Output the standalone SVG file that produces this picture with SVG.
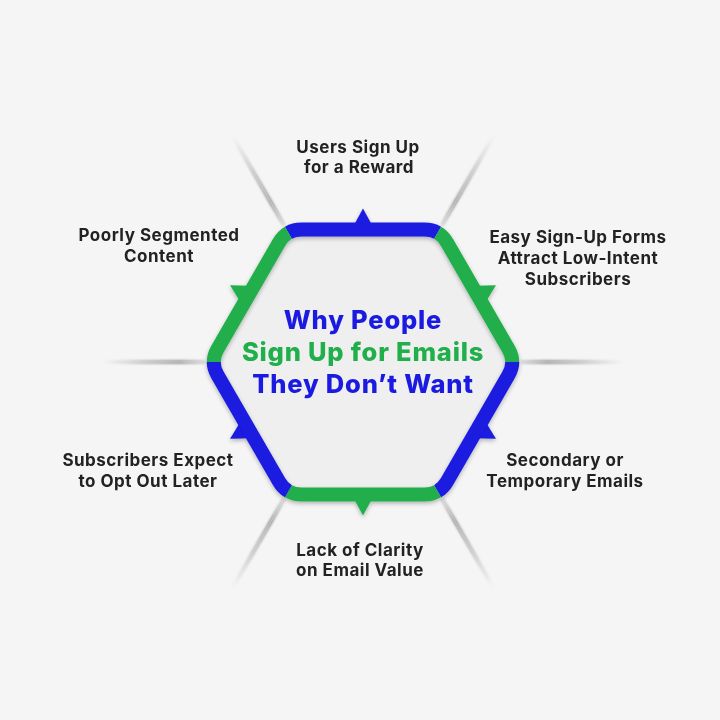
<svg xmlns="http://www.w3.org/2000/svg" width="720" height="720" viewBox="0 0 720 720">
<style>
.lbl{font-family:Inter,"Noto Sans","Liberation Sans",sans-serif;font-weight:700;font-size:17px;letter-spacing:0.5px;fill:#222;text-anchor:middle}
.ttl{font-family:Inter,"Noto Sans","Liberation Sans",sans-serif;font-weight:800;font-size:25.5px;letter-spacing:0.8px;text-anchor:middle}
.blue{fill:#1a1ae0}
.green{fill:#20af4b}
.sb{fill:none;stroke:#1a1ae0;stroke-width:14}
.sg{fill:none;stroke:#20af4b;stroke-width:14}
</style>
<defs>
<linearGradient id="spk" gradientUnits="userSpaceOnUse" x1="158" y1="0" x2="262" y2="0">
<stop offset="0" stop-color="#9a9a9a" stop-opacity="0.35"/>
<stop offset="0.25" stop-color="#8a8a8a" stop-opacity="0.85"/>
<stop offset="0.6" stop-color="#a0a0a0" stop-opacity="0.6"/>
<stop offset="1" stop-color="#c8c8c8" stop-opacity="0"/>
</linearGradient>
<filter id="blur" x="-20%" y="-200%" width="140%" height="500%"><feGaussianBlur stdDeviation="1.1"/></filter>
<filter id="sh" x="-10%" y="-10%" width="120%" height="120%"><feDropShadow dx="0" dy="2" stdDeviation="2.2" flood-color="#000" flood-opacity="0.28"/></filter>
<g id="spoke"><rect x="158" y="-2" width="104" height="4" fill="url(#spk)" filter="url(#blur)"/><rect x="158" y="-0.6" width="90" height="1.2" fill="#e6e6e6" opacity="0.5"/></g>
<polygon id="tri" points="-9.5,-136 9.5,-136 0,-153.5"/>
</defs>
<rect width="720" height="720" fill="#f5f5f5"/>
<g id="connectors">
<use href="#spoke" transform="translate(363,362) rotate(-120)"/>
<use href="#spoke" transform="translate(363,362) rotate(-60)"/>
<use href="#spoke" transform="translate(363,362)"/>
<use href="#spoke" transform="translate(363,362) rotate(60)"/>
<use href="#spoke" transform="translate(363,362) rotate(120)"/>
<use href="#spoke" transform="translate(363,362) rotate(180)"/>
</g>
<g id="hexagon">
<path d="M288.4,232.75 Q294,229.5 301.5,229.5 L424.5,229.5 Q432,229.5 437.6,232.75 Q443.25,236 447,242.5 L508.5,349 Q512.25,355.5 512.25,362 Q512.25,368.5 508.5,375 L447,481.5 Q443.25,488 437.6,491.25 Q432,494.5 424.5,494.5 L301.5,494.5 Q294,494.5 288.4,491.25 Q282.75,488 279,481.5 L217.5,375 Q213.75,368.5 213.75,362 Q213.75,355.5 217.5,349 L279,242.5 Q282.75,236 288.4,232.75 Z" fill="#efefef"/>
<g filter="url(#sh)">
<g class="blue">
<use href="#tri" transform="translate(363,362)"/>
<use href="#tri" transform="translate(363,362) rotate(120)"/>
<use href="#tri" transform="translate(363,362) rotate(240)"/>
</g>
<g class="green">
<use href="#tri" transform="translate(363,362) rotate(60)"/>
<use href="#tri" transform="translate(363,362) rotate(180)"/>
<use href="#tri" transform="translate(363,362) rotate(300)"/>
</g>
<path class="sb" d="M288.4,232.75 Q294,229.5 301.5,229.5 L424.5,229.5 Q432,229.5 437.6,232.75"/>
<path class="sg" d="M437.6,232.75 Q443.25,236 447,242.5 L508.5,349 Q512.25,355.5 512.25,362"/>
<path class="sb" d="M512.25,362 Q512.25,368.5 508.5,375 L447,481.5 Q443.25,488 437.6,491.25"/>
<path class="sg" d="M437.6,491.25 Q432,494.5 424.5,494.5 L301.5,494.5 Q294,494.5 288.4,491.25"/>
<path class="sb" d="M288.4,491.25 Q282.75,488 279,481.5 L217.5,375 Q213.75,368.5 213.75,362"/>
<path class="sg" d="M213.75,362 Q213.75,355.5 217.5,349 L279,242.5 Q282.75,236 288.4,232.75"/>
</g>
<text class="ttl" x="363" y="329"><tspan class="blue">Why People</tspan></text>
<text class="ttl" x="363" y="361"><tspan class="green">Sign Up for Emails</tspan></text>
<text class="ttl" x="363" y="393"><tspan class="blue">They Don’t Want</tspan></text>
</g>
<g id="label-reward"><text class="lbl" x="358" y="153">Users Sign Up</text><text class="lbl" x="359" y="173">for a Reward</text></g>
<g id="label-easy"><text class="lbl" x="578" y="243">Easy Sign-Up Forms</text><text class="lbl" x="578" y="264">Attract Low-Intent</text><text class="lbl" x="578" y="285">Subscribers</text></g>
<g id="label-secondary"><text class="lbl" x="565" y="466">Secondary or</text><text class="lbl" x="565" y="487">Temporary Emails</text></g>
<g id="label-clarity"><text class="lbl" x="360" y="556">Lack of Clarity</text><text class="lbl" x="360" y="576">on Email Value</text></g>
<g id="label-optout"><text class="lbl" x="148" y="466">Subscribers Expect</text><text class="lbl" x="148" y="487">to Opt Out Later</text></g>
<g id="label-segmented"><text class="lbl" x="159" y="241">Poorly Segmented</text><text class="lbl" x="159" y="262">Content</text></g>
</svg>
